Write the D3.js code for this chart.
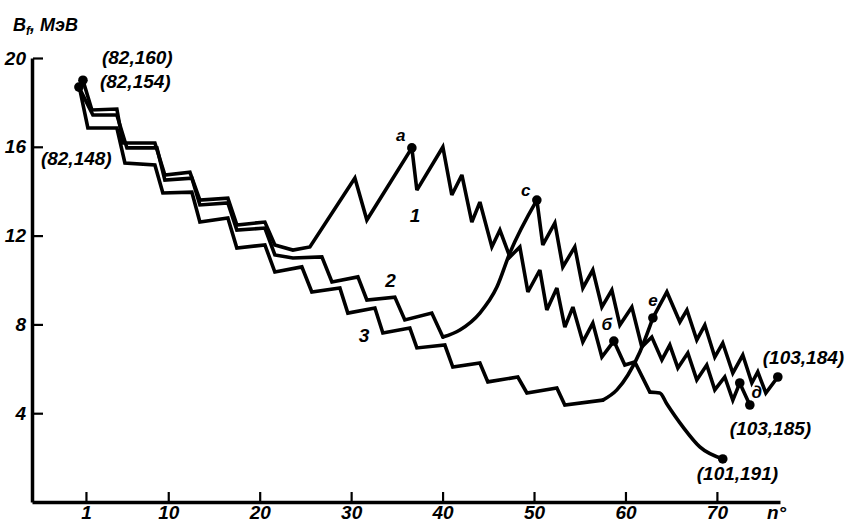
<!DOCTYPE html>
<html lang="ru">
<head>
    <meta charset="UTF-8">
    <title>Bf</title>
    <script src="https://d3js.org/d3.v7.min.js"></script>
    <style>
        body { margin: 0; background: #fff; }
        svg text {
            font-family: "Liberation Sans", Arial, sans-serif;
            font-style: italic;
            font-weight: bold;
            fill: #000;
        }
    </style>
</head>
<body>
    <div class="canvas"></div>
    <script>
      // кривая 1 — (82,160)
      const curve1StepN = [0.67, 1.65, 4.38, 5.04, 8.54, 9.63, 12.37, 13.46, 16.52, 17.5, 20.57, 21.66, 23.63, 25.49];
      const curve1StepB = [19.0, 17.66, 17.7, 16.17, 16.17, 14.73, 14.86, 13.6, 13.69, 12.48, 12.61, 11.58, 11.35, 11.49];
      const curve1ZigN = [25.49, 30.41, 31.72, 36.64, 37.19, 40.03, 41.01, 42.11, 43.2, 44.08, 45.39, 46.27, 47.36, 48.45,
                          49.33, 50.64, 51.4, 52.5, 53.37, 54.25, 55.34, 56.43, 57.42, 58.73, 59.93, 61.02, 62.67];
      const curve1ZigB = [11.49, 14.59, 12.7, 15.95, 14.05, 15.99, 13.83, 14.73, 12.61, 13.51, 11.49, 12.25, 11.04, 11.49,
                          9.46, 10.45, 8.65, 9.64, 7.88, 8.78, 7.21, 8.06, 6.53, 7.25, 6.17, 6.31, 4.95];
      const curve1TailN = [62.67, 63.76, 64.53, 66.28, 68.13, 70.64];
      const curve1TailB = [4.95, 4.91, 4.41, 3.38, 2.48, 1.94];

      // кривая 2 — (82,154)
      const curve2StepN = [0.23, 1.76, 4.38, 5.48, 8.76, 9.63, 12.58, 13.46, 16.52, 17.5, 20.57, 21.66, 23.63, 26.8,
                           27.9, 30.74, 31.72, 34.78, 35.87, 38.82, 40.03];
      const curve2StepB = [18.69, 17.43, 17.43, 15.95, 15.95, 14.5, 14.59, 13.38, 13.47, 12.25, 12.34, 11.13, 10.99, 11.04,
                           9.91, 10.14, 9.1, 9.23, 8.2, 8.51, 7.43];
      const curve2RiseN = [40.03, 41.89, 44.08, 45.94, 47.36, 50.31];
      const curve2RiseB = [7.43, 7.75, 8.51, 9.68, 11.22, 13.6];
      const curve2ZigN = [50.31, 50.96, 52.28, 53.15, 54.46, 55.34, 56.43, 57.42, 58.51, 59.39, 60.7, 61.79, 62.88, 63.98,
                          64.85, 65.73, 66.82, 67.8, 68.89, 69.77, 70.86, 71.74, 72.5, 73.6];
      const curve2ZigB = [13.6, 11.58, 12.57, 10.59, 11.49, 9.64, 10.45, 8.78, 9.55, 7.97, 8.78, 6.98, 7.43, 6.4,
                          7.07, 6.04, 6.71, 5.5, 6.17, 5.05, 5.63, 4.59, 5.36, 4.37];

      // кривая 3 — (82,148)
      const curve3StepN = [0.34, 1.21, 4.38, 5.26, 8.54, 9.41, 12.58, 13.46, 16.52, 17.5, 20.57, 21.66, 24.61, 25.7,
                           28.77, 29.64, 32.6, 33.47, 36.42, 37.19, 40.25, 41.12, 44.08, 44.95, 48.23, 49.22, 52.5, 53.37, 57.53];
      const curve3StepB = [18.56, 16.85, 16.85, 15.27, 15.18, 13.92, 13.96, 12.61, 12.79, 11.44, 11.58, 10.36, 10.59, 9.46,
                           9.64, 8.51, 8.74, 7.61, 7.84, 6.94, 7.07, 6.08, 6.26, 5.41, 5.63, 4.91, 5.14, 4.37, 4.59];
      const curve3RiseN = [57.53, 59.06, 60.27, 61.58, 63.0];
      const curve3RiseB = [4.59, 5.05, 5.72, 6.76, 8.29];
      const curve3ZigN = [63.0, 64.53, 65.95, 66.72, 67.8, 68.68, 69.77, 70.64, 71.74, 72.83, 73.82, 74.47, 75.35, 76.66];
      const curve3ZigB = [8.29, 9.46, 8.11, 8.65, 7.3, 7.97, 6.53, 7.16, 5.81, 6.62, 5.36, 5.86, 4.91, 5.63];

      // отмеченные точки
      const dotN = [0.67, 0.23, 36.64, 50.31, 58.73, 63.0, 72.5, 73.6, 76.66, 70.64];
      const dotB = [19.0, 18.69, 15.95, 13.6, 7.25, 8.29, 5.36, 4.37, 5.63, 1.94];
      const letterText = ['а', 'с', 'б', 'е', 'д'];
      const nuclideText = ['(82,160)', '(82,154)', '(82,148)', '(103,184)', '(103,185)', '(101,191)'];
      const curveText = ['1', '2', '3'];

      const xTicks = [1, 10, 20, 30, 40, 50, 60, 70];
      const yTicks = [4, 8, 12, 16, 20];

      const width = 847;
      const height = 526;

      const svg = d3.select('.canvas')
                      .append('svg')
                      .attr('width', width)
                      .attr('height', height)
                      .style('display', 'block');

      const x = d3.scaleLinear().domain([-4.9, 76.9]).range([32, 780]);
      const y = d3.scaleLinear().domain([0, 20]).range([502, 58]);

      const zip = (a, b) => a.map((v, i) => [v, b[i]]);

      // оси
      const xAxis = d3.axisBottom(x)
                        .tickValues(xTicks)
                        .tickSizeInner(-11)
                        .tickSizeOuter(0)
                        .tickPadding(4)
                        .tickFormat(d3.format('d'));
      const yAxis = d3.axisLeft(y)
                        .tickValues(yTicks)
                        .tickSizeInner(-11)
                        .tickSizeOuter(0)
                        .tickPadding(6)
                        .tickFormat(d3.format('d'));

      const xAxisG = svg.append('g').attr('transform', `translate(0, ${y(0)})`).call(xAxis);
      const yAxisG = svg.append('g').attr('transform', `translate(${x(-4.9)}, 0)`).call(yAxis);

      [xAxisG, yAxisG].forEach(g => {
        g.select('.domain').attr('stroke', '#000').attr('stroke-width', 3.5);
        g.selectAll('.tick line').attr('stroke', '#000').attr('stroke-width', 2.2);
        g.selectAll('.tick text').style('font-size', '19px').attr('fill', '#000');
      });
      xAxisG.selectAll('.tick line').attr('y2', -10).attr('y1', -1);
      xAxisG.selectAll('.tick text').attr('y', 4).attr('dy', '0.68em');
      yAxisG.selectAll('.tick line').attr('x1', 1).attr('x2', 11);

      svg.append('text')
          .attr('x', 13)
          .attr('y', 31)
          .style('font-size', '18px')
          .call(t => {
            t.append('tspan').text('B');
            t.append('tspan').attr('dy', 4).style('font-size', '12px').text('f');
            t.append('tspan').attr('dy', -4).text(', МэВ');
          });

      svg.append('text')
          .attr('x', 767)
          .attr('y', 519)
          .style('font-size', '19px')
          .text('n°');

      // кривые
      const line = d3.line().x(d => x(d[0])).y(d => y(d[1]));
      const smooth = d3.line().x(d => x(d[0])).y(d => y(d[1])).curve(d3.curveMonotoneX);

      const paths = [
        [line, zip(curve1StepN, curve1StepB).concat(zip(curve1ZigN, curve1ZigB).slice(1))],
        [smooth, zip(curve1TailN, curve1TailB)],
        [line, zip(curve2StepN, curve2StepB)],
        [smooth, zip(curve2RiseN, curve2RiseB)],
        [line, zip(curve2ZigN, curve2ZigB)],
        [line, zip(curve3StepN, curve3StepB)],
        [smooth, zip(curve3RiseN, curve3RiseB)],
        [line, zip(curve3ZigN, curve3ZigB)]
      ];

      svg.append('g')
          .selectAll('path')
          .data(paths)
          .enter()
          .append('path')
          .attr('fill', 'none')
          .attr('stroke', '#000')
          .attr('stroke-width', 3.6)
          .attr('stroke-linejoin', 'miter')
          .attr('stroke-miterlimit', 3)
          .attr('stroke-linecap', 'round')
          .attr('d', d => d[0](d[1]));

      svg.append('g')
          .selectAll('circle')
          .data(zip(dotN, dotB))
          .enter()
          .append('circle')
          .attr('cx', d => x(d[0]))
          .attr('cy', d => y(d[1]))
          .attr('r', 4.8)
          .attr('fill', '#000');

      // подписи точек а, с, б, е, д (смещение от точки)
      const letterAt = [2, 3, 4, 5, 6];
      const letterOffset = [[-11, -7], [-11, -4], [-7, -11], [0, -12], [17, 15]];
      svg.append('g')
          .selectAll('text')
          .data(letterText)
          .enter()
          .append('text')
          .attr('x', (d, i) => x(dotN[letterAt[i]]) + letterOffset[i][0])
          .attr('y', (d, i) => y(dotB[letterAt[i]]) + letterOffset[i][1])
          .attr('text-anchor', 'middle')
          .style('font-size', '17px')
          .text(d => d);

      // подписи нуклидов
      const nuclideAt = [0, 1, 1, 8, 7, 9];
      const nuclideOffset = [[19, -23], [21, -6], [-38, 71], [-15, -20], [-20, 23], [-26, 14]];
      svg.append('g')
          .selectAll('text')
          .data(nuclideText)
          .enter()
          .append('text')
          .attr('x', (d, i) => x(dotN[nuclideAt[i]]) + nuclideOffset[i][0])
          .attr('y', (d, i) => y(dotB[nuclideAt[i]]) + nuclideOffset[i][1])
          .attr('dy', '0.35em')
          .style('font-size', '19px')
          .text(d => d);

      // номера кривых
      const curveLabelN = [37.0, 34.3, 31.4];
      const curveLabelB = [12.9, 10.0, 7.5];
      svg.append('g')
          .selectAll('text')
          .data(curveText)
          .enter()
          .append('text')
          .attr('x', (d, i) => x(curveLabelN[i]))
          .attr('y', (d, i) => y(curveLabelB[i]))
          .attr('text-anchor', 'middle')
          .attr('dy', '0.35em')
          .style('font-size', '19px')
          .text(d => d);
    </script>
</body>
</html>
